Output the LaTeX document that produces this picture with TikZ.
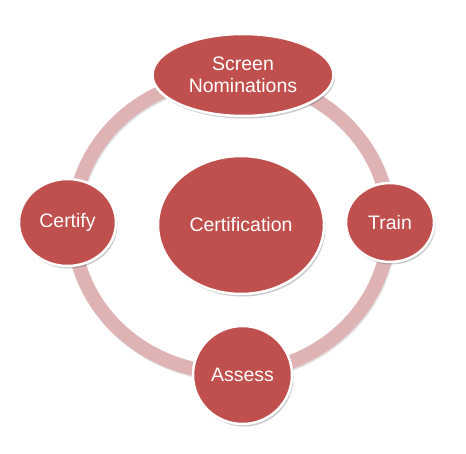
\documentclass[tikz,border=0pt]{standalone}
\usepackage{fontspec}
\setmainfont{Liberation Sans}
\usetikzlibrary{shapes.geometric,shadows}
\definecolor{nodered}{HTML}{C0504D}
\definecolor{ringpink}{HTML}{DFB3B4}
\tikzset{
  bubble/.style={ellipse, fill=nodered, draw=white, line width=2.5pt, inner sep=0pt,
    text=white, font=\fontsize{19.5}{22}\selectfont, align=center,
    drop shadow={shadow xshift=1.5pt, shadow yshift=-2.5pt, opacity=0.35, fill=black!60}},
  ringline/.style={draw=ringpink, line width=14pt}
}
\begin{document}
\begin{tikzpicture}[x=1pt,y=-1pt]
\useasboundingbox (0,0) rectangle (466,454);
\coordinate (rc) at (231,225);
\draw[draw=black!25, line width=14pt, opacity=0.5] ([xshift=1pt,yshift=-1.5pt]rc) ellipse [x radius=158pt, y radius=148pt];
\draw[ringline] (rc) ellipse [x radius=158pt, y radius=148pt];
\node[bubble, minimum width=181pt, minimum height=82pt] (screen) at (243,75) {Screen\\Nominations};
\node[bubble, minimum width=97pt, minimum height=87pt] (certify) at (67.5,222.5) {Certify};
\node[bubble, minimum width=88pt, minimum height=79pt] (train) at (390,222.5) {Train};
\node[bubble, minimum width=99pt, minimum height=98pt] (assess) at (242.5,375) {Assess};
\node[bubble, minimum width=166pt, minimum height=138pt] (cert) at (241,225) {Certification};
\end{tikzpicture}
\end{document}
